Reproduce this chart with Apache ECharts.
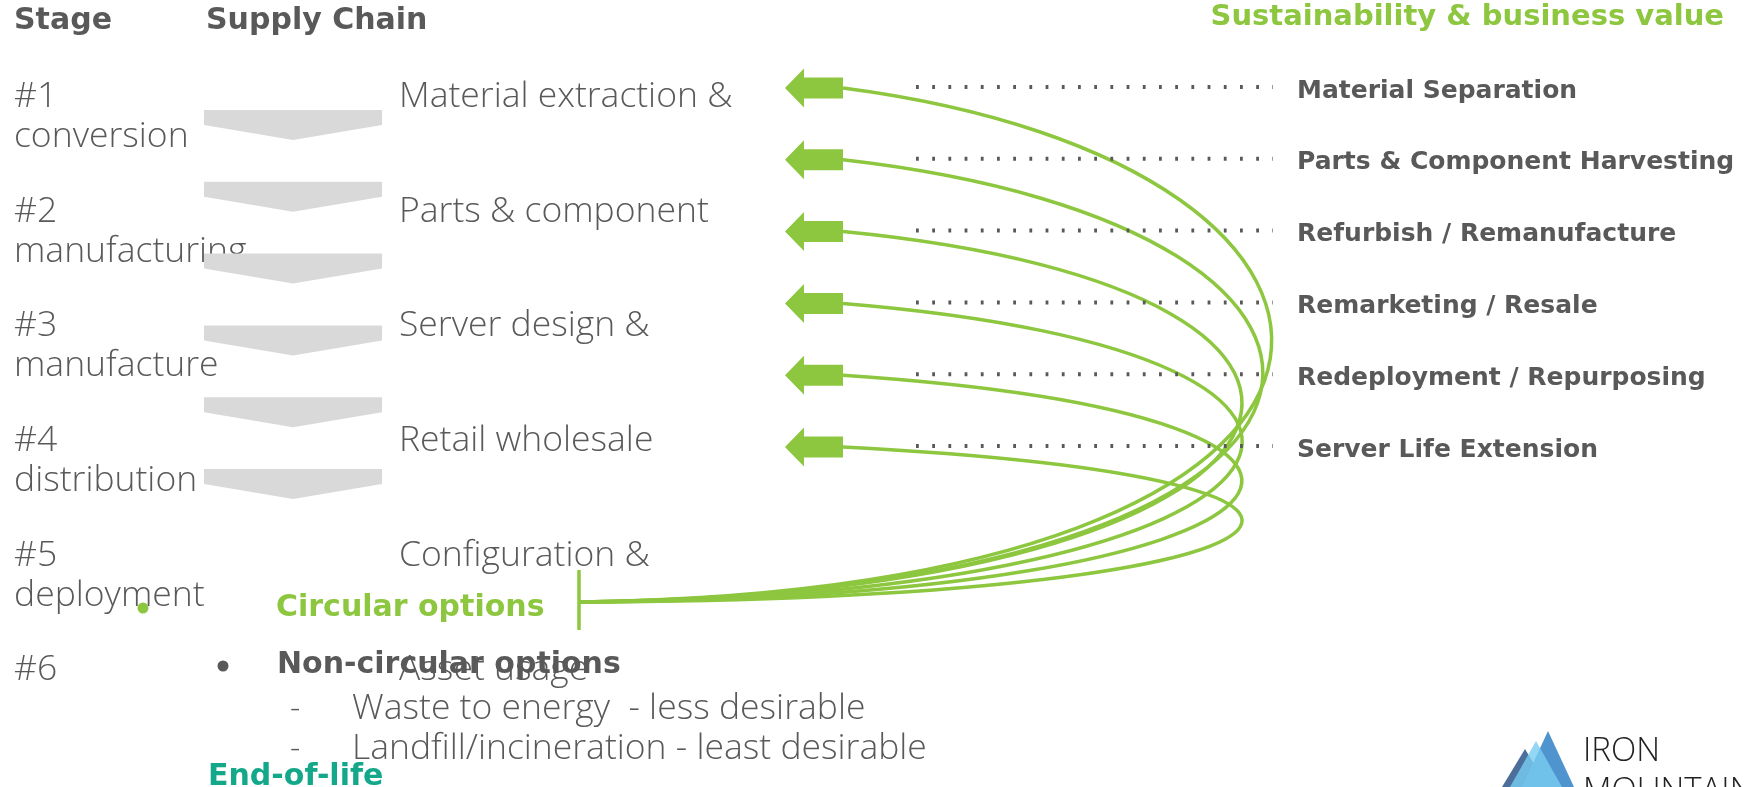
<!DOCTYPE html>
<html><head><meta charset="utf-8">
<script src="https://cdn.jsdelivr.net/npm/echarts@6/dist/echarts.min.js"></script>
<style>html,body{margin:0;padding:0;background:#fff;overflow:hidden}#c{width:1746px;height:787px;}</style>
</head><body><div id="c"></div>
<script>
// ---------------- data ----------------
const headers = ['Stage', 'Supply Chain'];
const title = 'Sustainability & business value';
const stageNumbers = ['#1', '#2', '#3', '#4', '#5', '#6'];
const stageNames = ['conversion', 'manufacturing', 'manufacture', 'distribution', 'deployment', ''];
const supplyChain = ['Material extraction &', 'Parts & component', 'Server design &', 'Retail wholesale', 'Configuration &', 'Asset usage'];
const circularOptions = ['Material Separation', 'Parts & Component Harvesting', 'Refurbish / Remanufacture', 'Remarketing / Resale', 'Redeployment / Repurposing', 'Server Life Extension'];
const circularLabel = 'Circular options';
const nonCircularLabel = 'Non-circular options';
const nonCircularOptions = ['Waste to energy  - less desirable', 'Landfill/incineration - least desirable'];
const endOfLifeLabel = 'End-of-life';
const logoWords = ['IRON', 'MOUNTAIN'];

// ---------------- layout / style ----------------
const W = 1746, H = 787;
const GRAY = '#595959', GREEN = '#8DC63F', TEAL = '#14A88A', CHEV = '#D9D9D9';
const BOLD = '"DejaVu Sans", sans-serif';
const LIGHT = '"Open Sans", sans-serif';
const fB = s => 'bold ' + s + 'px ' + BOLD;
const fL = s => '300 ' + s + 'px ' + LIGHT;
const LS = 35.5; // light text size
const stageRow0 = 97, stageStep = 114.6;   // stage rows axis
const optRow0 = 88, optStep = 71.8;        // option rows axis
const COL = { stage: 14, supply: 399, chevL: 204, chevR: 382, tip: 785, headBase: 804, tail: 843,
  dotsL: 916, dotsR: 1273, optLabel: 1297, hubX: 579 };
const hubY = 602;
const curveReach = [885, 850, 777, 768, 757, 748];

function txt(x, y, text, font, fill, align) {
  return { type: 'text', x: x, y: y, style: { text: text, font: font, fill: fill, align: align || 'left', verticalAlign: 'middle' } };
}

const chart = echarts.init(document.getElementById('c'), null, { renderer: 'canvas', width: W, height: H });

const option = {
  animation: false,
  backgroundColor: '#ffffff',
  grid: { left: 0, right: 0, top: 0, bottom: 0 },
  xAxis: { type: 'value', min: 0, max: W, show: false },
  yAxis: [
    { type: 'value', inverse: true, min: 0, max: H, show: false },
    { type: 'value', inverse: true, min: -stageRow0 / stageStep, max: (H - stageRow0) / stageStep, show: false },
    { type: 'value', inverse: true, min: -optRow0 / optStep, max: (H - optRow0) / optStep, show: false }
  ],
  series: [
    // headers + title
    {
      type: 'custom', yAxisIndex: 0, z: 5, clip: false,
      data: headers.map((h, i) => [i === 0 ? COL.stage : 206, 21]).concat([[1724, 17]]),
      encode: { x: 0, y: 1 },
      renderItem: (params, api) => {
        const p = api.coord([api.value(0), api.value(1)]);
        const i = params.dataIndex;
        if (i < headers.length) return txt(p[0], p[1], headers[i], fB(30), GRAY);
        return txt(p[0], p[1], title, fB(29), GREEN, 'right');
      }
    },
    // stage labels
    {
      type: 'custom', yAxisIndex: 1, z: 1, clip: false,
      data: stageNumbers.map((s, i) => [COL.stage, i]),
      encode: { x: 0, y: 1 },
      renderItem: (params, api) => {
        const i = params.dataIndex;
        const p = api.coord([api.value(0), api.value(1)]);
        return { type: 'group', children: [
          txt(p[0], p[1], stageNumbers[i], fL(LS), GRAY),
          txt(p[0], p[1] + 40, stageNames[i], fL(LS), GRAY)
        ] };
      }
    },
    // supply chain labels
    {
      type: 'custom', yAxisIndex: 1, z: 1, clip: false,
      data: supplyChain.map((s, i) => [COL.supply, i]),
      encode: { x: 0, y: 1 },
      renderItem: (params, api) => {
        const p = api.coord([api.value(0), api.value(1)]);
        return txt(p[0], p[1], supplyChain[params.dataIndex], fL(LS), GRAY);
      }
    },
    // chevrons
    {
      type: 'custom', yAxisIndex: 2, z: 2, clip: false,
      data: stageNumbers.map((s, i) => [COL.chevL, i]),
      encode: { x: 0, y: 1 },
      renderItem: (params, api) => {
        const p = api.coord([COL.chevL, api.value(1)]);
        const r = api.coord([COL.chevR, api.value(1)]);
        const top = p[1] + 22, mid = (p[0] + r[0]) / 2;
        return { type: 'polygon', shape: { points: [[p[0], top], [r[0], top], [r[0], top + 15], [mid, top + 30], [p[0], top + 15]] },
          style: { fill: CHEV } };
      }
    },
    // arrows, dotted leaders, option labels
    {
      type: 'custom', yAxisIndex: 2, z: 4, clip: false,
      data: circularOptions.map((s, i) => [COL.tip, i]),
      encode: { x: 0, y: 1 },
      renderItem: (params, api) => {
        const v = api.value(1);
        const t = api.coord([COL.tip, v]), b = api.coord([COL.headBase, v]), e = api.coord([COL.tail, v]);
        const y = t[1];
        const dl = api.coord([COL.dotsL, v]), dr = api.coord([COL.dotsR, v]);
        const lb = api.coord([COL.optLabel, v]);
        return { type: 'group', children: [
          { type: 'polygon', shape: { points: [[t[0], y], [b[0], y - 19.5], [b[0], y - 10.5], [e[0], y - 10.5], [e[0], y + 10.5], [b[0], y + 10.5], [b[0], y + 19.5]] },
            style: { fill: GREEN } },
          { type: 'line', shape: { x1: dl[0], y1: y - 1, x2: dr[0], y2: y - 1 },
            style: { stroke: GRAY, lineWidth: 4, lineDash: [2.8, 13.4] } },
          txt(lb[0], y + 3, circularOptions[params.dataIndex], fB(25), GRAY)
        ] };
      }
    },
    // curves from hub to arrows
    {
      type: 'custom', yAxisIndex: 2, z: 3, clip: false,
      data: circularOptions.map((s, i) => [COL.tail, i]),
      encode: { x: 0, y: 1 },
      renderItem: (params, api) => {
        const i = params.dataIndex;
        const e = api.coord([COL.tail, api.value(1)]);
        const hx = COL.hubX, hy = hubY;
        return { type: 'bezierCurve',
          shape: { x1: hx, y1: hy, x2: e[0], y2: e[1],
            cpx1: hx + curveReach[i], cpy1: hy - 12 + 2 * i,
            cpx2: e[0] + 600 + 7.4 * i, cpy2: e[1] + 78 - 9 * i },
          style: { stroke: GREEN, lineWidth: 3.5, fill: 'none' } };
      }
    },
    // end-of-life annotations
    {
      type: 'custom', yAxisIndex: 0, z: 6, clip: false,
      data: [[COL.hubX, hubY]],
      encode: { x: 0, y: 1 },
      renderItem: (params, api) => {
        const h = api.coord([api.value(0), api.value(1)]);
        const c = [];
        c.push({ type: 'line', shape: { x1: h[0], y1: 570, x2: h[0], y2: 630 }, style: { stroke: GREEN, lineWidth: 3.5 } });
        c.push({ type: 'circle', shape: { cx: 143, cy: 608, r: 5.5 }, style: { fill: GREEN } });
        c.push(txt(276, 608, circularLabel, fB(30), GREEN));
        c.push({ type: 'circle', shape: { cx: 223, cy: 666, r: 5.5 }, style: { fill: GRAY } });
        c.push(txt(277, 665, nonCircularLabel, fB(30), GRAY));
        nonCircularOptions.forEach((t, k) => {
          const y = 709 + k * 40;
          c.push(txt(290, y, '-', fL(32), GRAY));
          c.push(txt(352, y, t, fL(LS), GRAY));
        });
        c.push(txt(208, 777, endOfLifeLabel, fB(30), TEAL));
        return { type: 'group', children: c };
      }
    }
  ],
  graphic: [
    { type: 'polygon', shape: { points: [[1525, 749], [1502, 787], [1548, 787]] }, style: { fill: '#4C6E9B' } },
    { type: 'polygon', shape: { points: [[1548, 731], [1522, 787], [1574, 787]] }, style: { fill: '#4F94CE' } },
    { type: 'polygon', shape: { points: [[1536, 741], [1510, 787], [1562, 787]] }, style: { fill: 'rgba(120,205,242,0.8)' } },
    { type: 'text', x: 1583, y: 752, style: { text: logoWords[0], font: fL(33), fill: '#222', verticalAlign: 'middle' } },
    { type: 'text', x: 1583, y: 792, style: { text: logoWords[1], font: fL(33), fill: '#222', verticalAlign: 'middle' } }
  ]
};
chart.setOption(option);
</script>
</body></html>
